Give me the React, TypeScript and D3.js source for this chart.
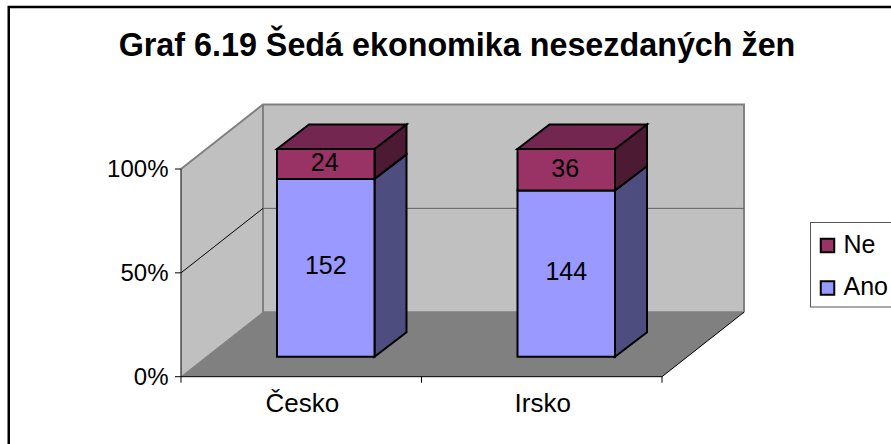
import React from "react";
import * as d3 from "d3";

const title = "Graf 6.19 Šedá ekonomika nesezdaných žen";
const categories = ["Česko", "Irsko"];
const anoValues = [152, 144];
const neValues = [24, 36];
// Height of the lower segment as a share of the column.
const anoShares = [0.856, 0.8];
const percentTicks = [0, 0.5, 1];
const legendNames = ["Ne", "Ano"];
const legendFills = ["#993366", "#9999FF"];

const W = 891, H = 444;
const FONT = "'Liberation Sans', Arial, sans-serif";
const X0 = 181, X1 = 662, Y0 = 376.7, Y1 = 169;
const DX = 82, DY = -64.5;
const BAR_DX = 24.5, BAR_DY = -20;
const BAR_DEPTH_X = 32, BAR_DEPTH_Y = -24.5;

const x = d3.scaleBand<string>().domain(categories).range([X0, X1]);
const y = d3.scaleLinear().domain([0, 1]).range([Y0, Y1]);
const pct = d3.format(".0%");

const poly = (pts: [number, number][]) => d3.line()(pts)! + "Z";

function Box({ l, r, yb, yt, fill, side, top }: any) {
  return (
    <g stroke="#000" strokeWidth={2} strokeLinejoin="miter">
      <path d={poly([[r, yb], [r + BAR_DEPTH_X, yb + BAR_DEPTH_Y], [r + BAR_DEPTH_X, yt + BAR_DEPTH_Y], [r, yt]])} fill={side} />
      {top && <path d={poly([[l, yt], [l + BAR_DEPTH_X, yt + BAR_DEPTH_Y], [r + BAR_DEPTH_X, yt + BAR_DEPTH_Y], [r, yt]])} fill={top} />}
      <path d={poly([[l, yb], [r, yb], [r, yt], [l, yt]])} fill={fill} />
    </g>
  );
}

export default function App() {
  const barW = 97.5;
  return (
    <svg width={W} height={H} style={{ position: "fixed", left: 0, top: 0, background: "#fff" }} fontFamily={FONT}>
      <path d={`M8.75,${H}V7H${W}`} fill="none" stroke="#000" strokeWidth={2.5} />
      <text x={457} y={56} textAnchor="middle" fontSize={32.3} fontWeight="bold" fill="#000">{title}</text>

      {/* walls */}
      <path d={poly([[X0, Y0], [X0 + DX, Y0 + DY], [X0 + DX, Y1 + DY], [X0, Y1]])} fill="#C0C0C0" />
      <path d={poly([[X0 + DX, Y0 + DY], [X1 + DX, Y0 + DY], [X1 + DX, Y1 + DY], [X0 + DX, Y1 + DY]])} fill="#C0C0C0" />
      <path d={poly([[X0, Y0], [X1, Y0], [X1 + DX, Y0 + DY], [X0 + DX, Y0 + DY]])} fill="#808080" />
      <path d={`M${X0},${Y1}L${X0 + DX},${Y1 + DY}L${X1 + DX},${Y1 + DY}L${X1 + DX},${Y0 + DY}M${X0 + DX},${Y1 + DY}V${Y0 + DY}H${X1 + DX}`} fill="none" stroke="#808080" strokeWidth={2} />
      <path d={`M${X0 + DX},${y(0.5) + DY}H${X1 + DX}`} stroke="#606060" strokeWidth={1} />
      <path d={`M${X0},${y(0.5)}L${X0 + DX},${y(0.5) + DY}`} stroke="#000" strokeWidth={1} />
      <path d={`M${X1},${Y0}L${X1 + DX},${Y0 + DY}`} stroke="#000" strokeWidth={1} />
      <path d={`M${X0},${Y0}L${X0 + DX},${Y0 + DY}`} stroke="#808080" strokeWidth={1} />

      {/* bars */}
      {categories.map((c, i) => {
        const cx = x(c)! + x.bandwidth() / 2 + BAR_DX;
        const l = cx - barW / 2, r = cx + barW / 2;
        const split = y(anoShares[i]) + BAR_DY;
        const yb = Y0 + BAR_DY, yt = Y1 + BAR_DY;
        return (
          <g key={c}>
            <Box l={l} r={r} yb={yb} yt={split} fill="#9999FF" side="#4D4D80" />
            <Box l={l} r={r} yb={split} yt={yt} fill="#993366" side="#4D1A33" top="#732650" />
            <text x={cx} y={(yb + split) / 2 + 6.5} textAnchor="middle" fontSize={25} fill="#000">{anoValues[i]}</text>
            <text x={cx - 1} y={(split + yt) / 2 + 7} textAnchor="middle" fontSize={25} fill="#000">{neValues[i]}</text>
          </g>
        );
      })}

      {/* axes */}
      <path d={`M${X0},${Y1}V${Y0}H${X1}`} fill="none" stroke="#000" strokeWidth={1} />
      {percentTicks.map((t) => (
        <g key={t}>
          <path d={`M${X0 - 6},${y(t)}H${X0}`} stroke="#000" strokeWidth={1} />
          <text x={168.5} y={y(t) + 8} textAnchor="end" fontSize={24} fill="#000">{pct(t)}</text>
        </g>
      ))}
      {[X0, X0 + x.bandwidth(), X1].map((t) => (
        <path key={t} d={`M${t},${Y0}V${Y0 + 6}`} stroke="#000" strokeWidth={1} />
      ))}
      {categories.map((c) => (
        <text key={c} x={x(c)! + x.bandwidth() / 2 + 1} y={412} textAnchor="middle" fontSize={26} fill="#000">{c}</text>
      ))}

      {/* legend */}
      <rect x={810.5} y={222.5} width={W} height={84.5} fill="#fff" stroke="#555" strokeWidth={1} />
      {legendNames.map((d, i) => (
        <g key={d}>
          <rect x={820.75} y={238.75 + i * 42.5} width={13.5} height={13.5} fill={legendFills[i]} stroke="#000" strokeWidth={2} />
          <text x={843.5} y={253 + i * 42} fontSize={25} fill="#000">{d}</text>
        </g>
      ))}
    </svg>
  );
}
